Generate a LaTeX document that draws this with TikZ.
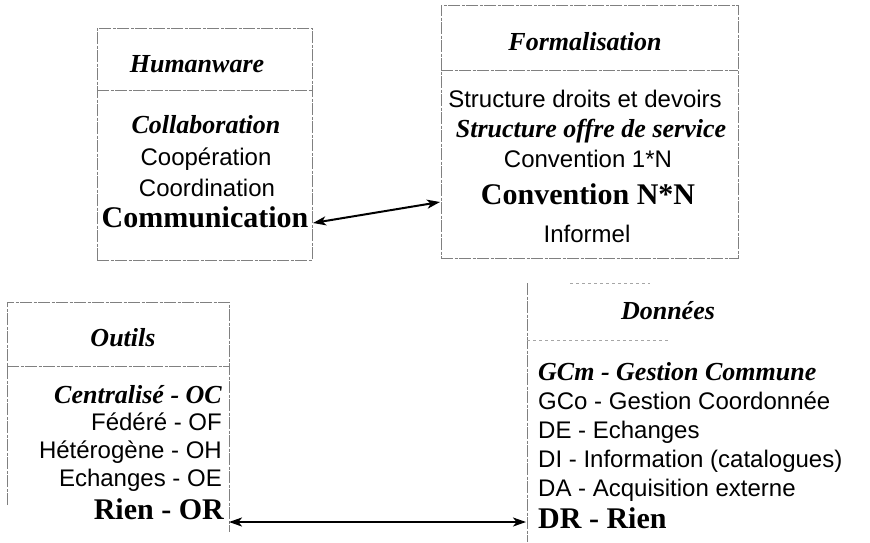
\documentclass[tikz,border=0pt]{standalone}
\usepackage{fontspec}
\setmainfont{Liberation Serif}
\newfontfamily\optfont{Liberation Sans}
\usetikzlibrary{arrows.meta}
\begin{document}
\begin{tikzpicture}[x=1pt,y=-1pt,
  frame/.style={draw=black!50, line width=0.5pt, dash pattern=on 12pt off 1.5pt on 3pt off 1.5pt},
  faint/.style={draw=black!35, line width=0.5pt, dash pattern=on 3pt off 3pt},
  ttl/.style={font=\fontsize{26}{30}\selectfont\bfseries\itshape, inner sep=0pt, text height=0.7em, text depth=0.22em},
  bi/.style={font=\fontsize{26}{30}\selectfont\bfseries\itshape, inner sep=0pt, text height=0.7em, text depth=0.22em},
  sans/.style={font=\optfont\fontsize{24}{28}\selectfont, inner sep=0pt, text height=0.7em, text depth=0.22em},
  big/.style={font=\fontsize{30}{34}\selectfont\bfseries, inner sep=0pt, text height=0.7em, text depth=0.22em},
  link/.style={{Stealth[length=13pt,width=9pt,inset=3.5pt]}-{Stealth[length=13pt,width=9pt,inset=3.5pt]}, line width=2pt}]
\useasboundingbox (0,0) rectangle (870,542);
% Humanware box
\node[frame, minimum width=215pt, minimum height=232pt, inner sep=0pt] (hbox) at (204.5,144) {};
\draw[frame] (97,90) -- (312,90);
\node[ttl] (hum) at (197,70) {Humanware};
\node[bi] (collab) at (206,131) {Collaboration};
\node[sans] (coop) at (206,163) {Coopération};
\node[sans] (coord) at (207,194) {Coordination};
\node[big] (comm) at (205,225) {Communication};
% Formalisation box
\node[frame, minimum width=297pt, minimum height=253pt, inner sep=0pt] (fbox) at (589.5,131.5) {};
\draw[frame] (441,70) -- (738,70);
\node[ttl] (form) at (585,48) {Formalisation};
\node[sans] (sdd) at (585,105) {Structure droits et devoirs};
\node[bi] (sos) at (591,135) {Structure offre de service};
\node[sans] (c1n) at (588,165) {Convention 1*N};
\node[big] (cnn) at (588,202) {Convention N*N};
\node[sans] (inf) at (587,240) {Informel};
% Outils box
\draw[frame] (7,505) -- (7,302) -- (229,302) -- (229,532);
\draw[frame] (7,366) -- (229,366);
\node[ttl] (out) at (123,344) {Outils};
\node[bi, anchor=east] (oc) at (222,401) {Centralisé - OC};
\node[sans, anchor=east] (of) at (222,428) {Fédéré - OF};
\node[sans, anchor=east] (oh) at (222,456) {Hétérogène - OH};
\node[sans, anchor=east] (oe) at (222,484) {Echanges - OE};
\node[big, anchor=east] (orr) at (224,517) {Rien - OR};
% Donnees box
\draw[frame] (527,283) -- (527,542);
\draw[faint] (570,283) -- (650,283);
\draw[faint] (527,340) -- (670,340);
\node[ttl] (don) at (668,317) {Données};
\node[bi, anchor=west] (gcm) at (538,378) {GCm - Gestion Commune};
\node[sans, anchor=west] (gco) at (538,407) {GCo - Gestion Coordonnée};
\node[sans, anchor=west] (de) at (538,436) {DE - Echanges};
\node[sans, anchor=west] (di) at (538,465) {DI - Information (catalogues)};
\node[sans, anchor=west] (da) at (538,494) {DA - Acquisition externe};
\node[big, anchor=west] (dr) at (538,526) {DR - Rien};
% arrows
\coordinate (a1) at (313,223);
\coordinate (a2) at (440,202);
\coordinate (b1) at (229,522);
\coordinate (b2) at (526,522);
\draw[link] (a1) -- (a2);
\draw[link] (b1) -- (b2);
\end{tikzpicture}
\end{document}
